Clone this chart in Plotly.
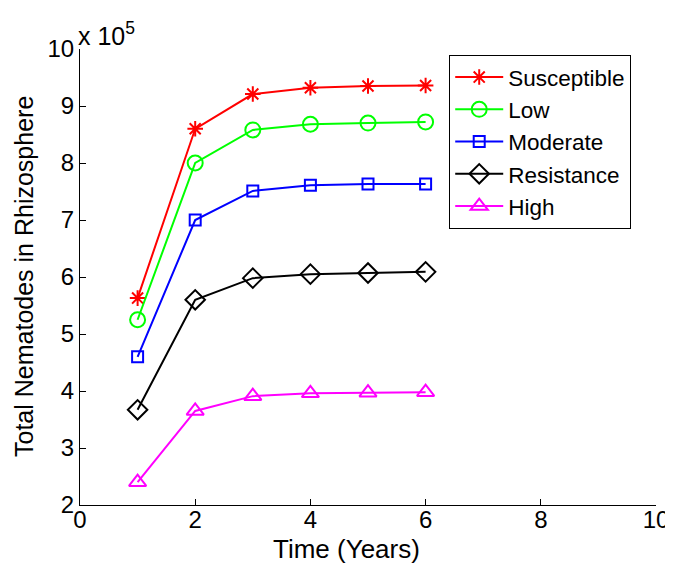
import plotly.graph_objects as go

years = [1, 2, 3, 4, 5, 6]
series_names = ["Susceptible", "Low", "Moderate", "Resistance", "High"]
# values in units of 1e5 nematodes
susceptible = [5.63, 8.60, 9.21, 9.32, 9.35, 9.36]
low = [5.25, 8.00, 8.58, 8.68, 8.70, 8.72]
moderate = [4.60, 7.00, 7.51, 7.61, 7.63, 7.63]
resistance = [3.67, 5.60, 5.98, 6.05, 6.07, 6.09]
high = [2.40, 3.65, 3.91, 3.96, 3.97, 3.98]
x_ticks = [0, 2, 4, 6, 8, 10]
y_ticks = [2, 3, 4, 5, 6, 7, 8, 9, 10]

colors = ["#ff0000", "#00ff00", "#0000ff", "#000000", "#ff00ff"]
symbols = ["asterisk-open", "circle-open", "square-open", "diamond-open", "triangle-up-open"]
sizes = [13, 15, 11, 15, 15]
values = [susceptible, low, moderate, resistance, high]

fig = go.Figure()
for name, vals, c, s, sz in zip(series_names, values, colors, symbols, sizes):
    fig.add_trace(go.Scatter(
        x=years, y=vals, name=name, mode="lines+markers",
        line=dict(color=c, width=2),
        marker=dict(symbol=s, size=sz, color=c, line=dict(color=c, width=2)),
    ))

font = "Liberation Sans, Arial, Helvetica, sans-serif"
# page body has an 8px margin, so margins are offset by 8px
fig.update_layout(
    width=673, height=563,
    margin=dict(l=72, r=25, t=41, b=66),
    plot_bgcolor="white", paper_bgcolor="white",
    font=dict(family=font, size=24, color="black"),
    showlegend=True,
    legend=dict(x=0.641, y=0.987, xanchor="left", yanchor="top",
                bordercolor="black", borderwidth=1, bgcolor="white",
                font=dict(size=22.5), tracegroupgap=0, itemwidth=48),
    xaxis=dict(range=[0, 10], tickvals=x_ticks, ticks="inside",
               ticklen=6, tickcolor="black", showline=True, linecolor="black",
               linewidth=1, showgrid=False, zeroline=False, automargin=False,
               ticklabelstandoff=-7, tickfont=dict(size=24)),
    yaxis=dict(range=[2, 10], tickvals=y_ticks, ticks="inside",
               ticklen=6, tickcolor="black", showline=True, linecolor="black",
               linewidth=1, showgrid=False, zeroline=False, automargin=False,
               tickfont=dict(size=24)),
    annotations=[
        dict(text="x 10<sup>5</sup>", xref="paper", yref="paper",
             x=0.0, y=1.0, xanchor="left", yanchor="bottom",
             showarrow=False, font=dict(size=25), yshift=-3, xshift=-4),
        dict(text="Time (Years)", xref="paper", yref="paper",
             x=(346 - 80) / 576, y=0, xanchor="center", yanchor="middle",
             showarrow=False, font=dict(size=26), yshift=-44),
        dict(text="Total Nematodes in Rhizosphere", xref="paper", yref="paper",
             x=0, y=0.5, xanchor="center", yanchor="middle", textangle=-90,
             showarrow=False, font=dict(size=25), xshift=-56),
    ],
)

fig.write_html("out.html")
